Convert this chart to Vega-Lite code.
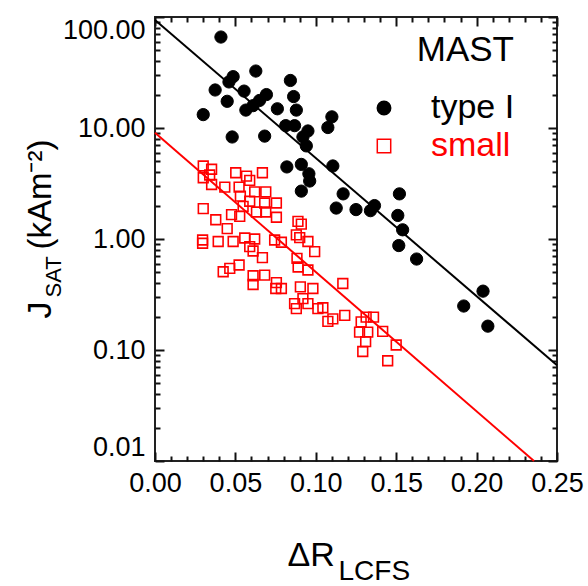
{
  "$schema": "https://vega.github.io/schema/vega-lite/v6.json",
  "width": 402,
  "height": 444,
  "autosize": "none",
  "padding": {"left": 155, "top": 17, "right": 31, "bottom": 125},
  "background": "white",
  "config": {
    "font": "Liberation Sans",
    "view": {"stroke": "#222222", "strokeWidth": 2},
    "axis": {"domain": false, "grid": false, "labelColor": "black", "labelFont": "Liberation Sans", "titleFont": "Liberation Sans", "titleFontWeight": "normal", "titleColor": "black"},
    "legend": {"titleFont": "Liberation Sans", "labelFont": "Liberation Sans"}
  },
  "datasets": {
    "typeI": [
      {"dr": 0.041, "j": 66}, {"dr": 0.0486, "j": 29}, {"dr": 0.046, "j": 26}, {"dr": 0.0374, "j": 22},
      {"dr": 0.0449, "j": 17.4}, {"dr": 0.030, "j": 13.2}, {"dr": 0.048, "j": 8.3}, {"dr": 0.0627, "j": 32.6},
      {"dr": 0.0554, "j": 21.5}, {"dr": 0.0565, "j": 14.5}, {"dr": 0.061, "j": 15.9}, {"dr": 0.065, "j": 17.7},
      {"dr": 0.0693, "j": 20}, {"dr": 0.0682, "j": 8.45}, {"dr": 0.0761, "j": 14.9}, {"dr": 0.0842, "j": 26.8},
      {"dr": 0.0862, "j": 19.2}, {"dr": 0.0879, "j": 14.5}, {"dr": 0.0813, "j": 10.5}, {"dr": 0.0868, "j": 10.5},
      {"dr": 0.0951, "j": 9.4}, {"dr": 0.092, "j": 8.3}, {"dr": 0.0941, "j": 6.9}, {"dr": 0.110, "j": 12.6},
      {"dr": 0.1075, "j": 10.1}, {"dr": 0.082, "j": 4.46}, {"dr": 0.091, "j": 4.7}, {"dr": 0.0957, "j": 3.87},
      {"dr": 0.0962, "j": 3.33}, {"dr": 0.091, "j": 2.7}, {"dr": 0.1106, "j": 4.55}, {"dr": 0.117, "j": 2.55},
      {"dr": 0.1127, "j": 1.9}, {"dr": 0.125, "j": 1.84}, {"dr": 0.152, "j": 2.55}, {"dr": 0.151, "j": 1.63},
      {"dr": 0.154, "j": 1.21}, {"dr": 0.134, "j": 1.8}, {"dr": 0.1365, "j": 2.0}, {"dr": 0.1516, "j": 0.873},
      {"dr": 0.1627, "j": 0.66}, {"dr": 0.204, "j": 0.339}, {"dr": 0.192, "j": 0.249}, {"dr": 0.207, "j": 0.164}
    ],
    "small": [
      {"dr": 0.030, "j": 4.55}, {"dr": 0.0352, "j": 4.25}, {"dr": 0.030, "j": 3.56}, {"dr": 0.034, "j": 3.77},
      {"dr": 0.0352, "j": 3.1}, {"dr": 0.0434, "j": 2.93}, {"dr": 0.0502, "j": 3.95}, {"dr": 0.0589, "j": 3.37},
      {"dr": 0.0668, "j": 3.95}, {"dr": 0.0569, "j": 3.69}, {"dr": 0.0523, "j": 2.93}, {"dr": 0.0531, "j": 2.43},
      {"dr": 0.062, "j": 2.66}, {"dr": 0.0689, "j": 2.66}, {"dr": 0.0589, "j": 2.19}, {"dr": 0.0682, "j": 2.11},
      {"dr": 0.0755, "j": 2.11}, {"dr": 0.0548, "j": 1.97}, {"dr": 0.0631, "j": 1.75}, {"dr": 0.0689, "j": 1.75},
      {"dr": 0.030, "j": 1.88}, {"dr": 0.0755, "j": 1.57}, {"dr": 0.0476, "j": 1.66}, {"dr": 0.0527, "j": 1.6},
      {"dr": 0.0378, "j": 1.49}, {"dr": 0.0449, "j": 1.24}, {"dr": 0.0296, "j": 0.98}, {"dr": 0.0296, "j": 0.916},
      {"dr": 0.0393, "j": 0.95}, {"dr": 0.0486, "j": 0.95}, {"dr": 0.0558, "j": 1.02}, {"dr": 0.062, "j": 1.0},
      {"dr": 0.0589, "j": 0.855}, {"dr": 0.061, "j": 0.78}, {"dr": 0.0668, "j": 0.68}, {"dr": 0.0744, "j": 0.98},
      {"dr": 0.0786, "j": 0.935}, {"dr": 0.0424, "j": 0.507}, {"dr": 0.0465, "j": 0.543}, {"dr": 0.0523, "j": 0.583},
      {"dr": 0.061, "j": 0.467}, {"dr": 0.061, "j": 0.389}, {"dr": 0.0682, "j": 0.473}, {"dr": 0.0755, "j": 0.405},
      {"dr": 0.0751, "j": 0.358}, {"dr": 0.0786, "j": 0.358}, {"dr": 0.0889, "j": 1.44}, {"dr": 0.091, "j": 1.36},
      {"dr": 0.0879, "j": 1.09}, {"dr": 0.09, "j": 1.03}, {"dr": 0.0951, "j": 0.95}, {"dr": 0.0993, "j": 0.77},
      {"dr": 0.0883, "j": 0.67}, {"dr": 0.089, "j": 0.56}, {"dr": 0.0951, "j": 0.526}, {"dr": 0.0904, "j": 0.37},
      {"dr": 0.0982, "j": 0.358}, {"dr": 0.1168, "j": 0.397}, {"dr": 0.0868, "j": 0.262}, {"dr": 0.0879, "j": 0.236},
      {"dr": 0.092, "j": 0.29}, {"dr": 0.0951, "j": 0.262}, {"dr": 0.1013, "j": 0.236}, {"dr": 0.1044, "j": 0.24},
      {"dr": 0.1075, "j": 0.181}, {"dr": 0.1106, "j": 0.191}, {"dr": 0.118, "j": 0.205}, {"dr": 0.1272, "j": 0.145},
      {"dr": 0.1282, "j": 0.179}, {"dr": 0.1313, "j": 0.198}, {"dr": 0.1359, "j": 0.198}, {"dr": 0.1323, "j": 0.145},
      {"dr": 0.131, "j": 0.119}, {"dr": 0.1292, "j": 0.097}, {"dr": 0.1416, "j": 0.147}, {"dr": 0.15, "j": 0.111},
      {"dr": 0.1447, "j": 0.080}
    ],
    "fitTypeI": [{"dr": 0, "j": 94}, {"dr": 0.25, "j": 0.073}],
    "fitSmall": [{"dr": 0, "j": 9.06}, {"dr": 0.2357, "j": 0.01}]
  },
  "resolve": {"axis": {"x": "independent", "y": "independent"}},
  "layer": [
    {
      "data": {"name": "typeI"},
      "transform": [{"calculate": "'type I'", "as": "series"}],
      "mark": {"type": "point", "size": 150, "strokeWidth": 1, "opacity": 1},
      "encoding": {
        "x": {"field": "dr", "type": "quantitative",
          "scale": {"domain": [0, 0.25], "nice": false, "zero": false},
          "axis": {"orient": "bottom", "offset": -9, "values": [0, 0.05, 0.1, 0.15, 0.2, 0.25], "format": ".2f", "labelFontSize": 27, "labelPadding": 9, "labelFlush": false, "ticks": true, "tickSize": 9, "tickColor": "#111111", "tickWidth": 2,
            "title": "ΔR", "titleFontSize": 34, "titleX": 132, "titleY": 113, "titleAlign": "left", "titleBaseline": "alphabetic", "titleAnchor": null}},
        "y": {"field": "j", "type": "quantitative",
          "scale": {"type": "log", "domain": [0.01, 100], "nice": false},
          "axis": {"orient": "left", "offset": -9, "values": [0.01, 0.1, 1, 10, 100], "format": ".2f", "labelFontSize": 27, "labelPadding": 10, "labelFlush": true, "ticks": true, "tickSize": 9, "tickColor": "#111111", "tickWidth": 2,
            "title": "J", "titleFontSize": 34, "titleAngle": 270, "titleX": -114, "titleY": 301, "titleAlign": "left", "titleBaseline": "alphabetic", "titleAnchor": null}},
        "shape": {"field": "series", "type": "nominal", "scale": {"domain": ["type I", "small"], "range": ["circle", "square"]},
          "legend": {"title": "MAST", "orient": "none", "legendX": 212, "legendY": 16, "titleFontSize": 35, "titleFontWeight": "normal", "titleAnchor": "end", "titlePadding": 23, "labelFontSize": 34, "labelOffset": 30, "rowPadding": 4, "symbolSize": 180, "symbolStrokeWidth": 1.5, "labelColor": {"expr": "datum.label === 'small' ? 'red' : 'black'"}}},
        "fill": {"field": "series", "type": "nominal", "scale": {"domain": ["type I", "small"], "range": ["black", "transparent"]},
          "legend": {"title": "MAST", "orient": "none", "legendX": 212, "legendY": 16, "titleFontSize": 35, "titleFontWeight": "normal", "titleAnchor": "end", "titlePadding": 23, "labelFontSize": 34, "labelOffset": 30, "rowPadding": 4, "symbolSize": 180, "symbolStrokeWidth": 1.5, "labelColor": {"expr": "datum.label === 'small' ? 'red' : 'black'"}}},
        "stroke": {"field": "series", "type": "nominal", "scale": {"domain": ["type I", "small"], "range": ["black", "red"]},
          "legend": {"title": "MAST", "orient": "none", "legendX": 212, "legendY": 16, "titleFontSize": 35, "titleFontWeight": "normal", "titleAnchor": "end", "titlePadding": 23, "labelFontSize": 34, "labelOffset": 30, "rowPadding": 4, "symbolSize": 180, "symbolStrokeWidth": 1.5, "labelColor": {"expr": "datum.label === 'small' ? 'red' : 'black'"}}}
      }
    },
    {
      "data": {"name": "small"},
      "transform": [{"calculate": "'small'", "as": "series"}],
      "mark": {"type": "point", "size": 95, "strokeWidth": 1.6, "opacity": 1},
      "encoding": {
        "x": {"field": "dr", "type": "quantitative",
          "axis": {"orient": "bottom", "offset": -5, "values": [0.01, 0.02, 0.03, 0.04, 0.06, 0.07, 0.08, 0.09, 0.11, 0.12, 0.13, 0.14, 0.16, 0.17, 0.18, 0.19, 0.21, 0.22, 0.23, 0.24], "labels": false, "ticks": true, "tickSize": 5, "tickColor": "#111111", "tickWidth": 2,
            "title": "LCFS", "titleFontSize": 28, "titleX": 183, "titleY": 123, "titleAlign": "left", "titleBaseline": "alphabetic", "titleAnchor": null}},
        "y": {"field": "j", "type": "quantitative",
          "axis": {"orient": "left", "offset": -5, "values": [0.02, 0.03, 0.04, 0.05, 0.06, 0.07, 0.08, 0.09, 0.2, 0.3, 0.4, 0.5, 0.6, 0.7, 0.8, 0.9, 2, 3, 4, 5, 6, 7, 8, 9, 20, 30, 40, 50, 60, 70, 80, 90], "labels": false, "ticks": true, "tickSize": 5, "tickColor": "#111111", "tickWidth": 2,
            "title": "SAT", "titleFontSize": 22, "titleAngle": 270, "titleX": -100, "titleY": 280, "titleAlign": "left", "titleBaseline": "alphabetic", "titleAnchor": null}},
        "shape": {"field": "series", "type": "nominal"},
        "fill": {"field": "series", "type": "nominal"},
        "stroke": {"field": "series", "type": "nominal"}
      }
    },
    {
      "data": {"name": "fitTypeI"},
      "mark": {"type": "line", "color": "black", "strokeWidth": 2},
      "encoding": {
        "x": {"field": "dr", "type": "quantitative",
          "axis": {"orient": "top", "offset": -9, "values": [0, 0.05, 0.1, 0.15, 0.2, 0.25], "labels": false, "ticks": true, "tickSize": 9, "tickColor": "#111111", "tickWidth": 2, "title": null}},
        "y": {"field": "j", "type": "quantitative",
          "axis": {"orient": "right", "offset": -9, "values": [0.01, 0.1, 1, 10, 100], "labels": false, "ticks": true, "tickSize": 9, "tickColor": "#111111", "tickWidth": 2,
            "title": "(kAm⁻²)", "titleFontSize": 33, "titleAngle": 270, "titleX": -498, "titleY": 232, "titleAlign": "left", "titleBaseline": "alphabetic", "titleAnchor": null}}
      }
    },
    {
      "data": {"name": "fitSmall"},
      "mark": {"type": "line", "color": "red", "strokeWidth": 2},
      "encoding": {
        "x": {"field": "dr", "type": "quantitative",
          "axis": {"orient": "top", "offset": -5, "values": [0.01, 0.02, 0.03, 0.04, 0.06, 0.07, 0.08, 0.09, 0.11, 0.12, 0.13, 0.14, 0.16, 0.17, 0.18, 0.19, 0.21, 0.22, 0.23, 0.24], "labels": false, "ticks": true, "tickSize": 5, "tickColor": "#111111", "tickWidth": 2, "title": null}},
        "y": {"field": "j", "type": "quantitative",
          "axis": {"orient": "right", "offset": -5, "values": [0.02, 0.03, 0.04, 0.05, 0.06, 0.07, 0.08, 0.09, 0.2, 0.3, 0.4, 0.5, 0.6, 0.7, 0.8, 0.9, 2, 3, 4, 5, 6, 7, 8, 9, 20, 30, 40, 50, 60, 70, 80, 90], "labels": false, "ticks": true, "tickSize": 5, "tickColor": "#111111", "tickWidth": 2, "title": null}}
      }
    }
  ]
}
